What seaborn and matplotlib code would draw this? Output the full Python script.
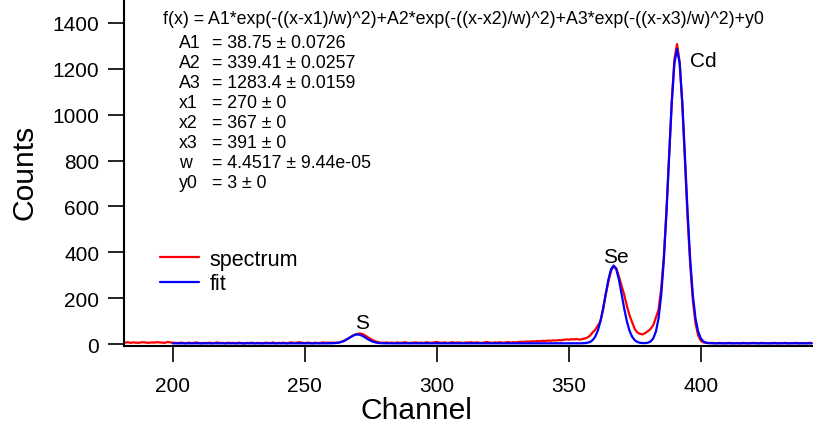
import matplotlib
matplotlib.use("Agg")
import matplotlib.pyplot as plt
import numpy as np
import pandas as pd
import seaborn as sns

# Spectrum (channels 182..442, one value per channel)
spec_counts = [
    6, 8, 5, 7, 6, 5, 7, 8, 6, 5,            # 182-191
    7, 6, 8, 7, 6, 5, 9, 7, 6, 5,            # 192-201
    4, 6, 5, 3, 6, 4, 5, 7, 4, 3,            # 202-211
    5, 4, 6, 3, 5, 7, 4, 5, 3, 6,            # 212-221
    4, 5, 3, 6, 4, 2, 5, 4, 6, 3,            # 222-231
    5, 4, 3, 6, 5, 4, 7, 3, 5, 4,            # 232-241
    6, 3, 5, 7, 4, 6, 8, 5, 4, 6,            # 242-251
    5, 3, 6, 4, 5, 7, 5, 6, 5, 6,            # 252-261
    5, 7, 10, 15, 21, 28, 35, 41, 44, 46,    # 262-271
    43, 36, 29, 22, 15, 10, 8, 6, 5, 7,      # 272-281
    5, 6, 4, 7, 5, 6, 8, 5, 4, 6,            # 282-291
    7, 5, 6, 4, 8, 6, 5, 7, 9, 6,            # 292-301
    5, 7, 4, 6, 8, 5, 7, 6, 4, 7,            # 302-311
    6, 8, 5, 7, 6, 4, 7, 9, 6, 5,            # 312-321
    7, 6, 8, 5, 7, 9, 6, 8, 7, 9,            # 322-331
    10, 9, 11, 10, 12, 11, 13, 12, 14, 13,   # 332-341
    15, 14, 16, 15, 17, 16, 18, 20, 19, 21,  # 342-351
    20, 22, 19, 21, 24, 28, 36, 50, 62, 80,  # 352-361
    100, 150, 215, 272, 318, 340, 330, 295, 254, 215,     # 362-371
    167, 125, 95, 65, 50, 44, 42, 48, 56, 66,             # 372-381
    82, 115, 150, 240, 380, 580, 820, 1055, 1240, 1308,   # 382-391
    1230, 1045, 800, 550, 345, 190, 90, 38, 14, 7,        # 392-401
    5, 4, 5, 4, 3, 5, 4, 3, 4, 5,            # 402-411
    3, 4, 4, 3, 5, 4, 3, 4, 5, 4,            # 412-421
    3, 5, 4, 4, 3, 4, 5, 3, 4, 4,            # 422-431
    5, 3, 4, 4, 5, 3, 4, 4, 3, 5,            # 432-441
    4,                                       # 442
]
spec_channels = list(range(182, 182 + len(spec_counts)))

# Fit curve (flat at y0 outside the peaks)
fit_channels = ([200]
                + list(range(258, 283))
                + list(range(352, 407))
                + [442])
fit_counts = (
    [3.0]
    + [3.0, 3.09, 3.25, 3.65, 4.53, 6.27, 9.30, 13.97, 20.28, 27.61, 34.67, 39.84,
       41.75,
       39.84, 34.67, 27.61, 20.28, 13.97, 9.30, 6.27, 4.53, 3.65, 3.25, 3.09, 3.03]
    + [3.0, 3.02, 3.07, 3.24, 3.76, 5.19, 8.70, 16.44, 31.64, 58.19, 99.13, 154.39,
       218.53, 280.37, 325.71, 342.41, 325.71, 280.37, 218.53, 154.39, 99.13, 58.19,
       31.64, 16.44, 8.70, 5.26, 4.01, 4.14, 5.93, 11.27, 24.55, 53.80, 111.30,
       211.70, 366.50, 575.40, 817.97, 1051.80, 1223.20, 1286.40, 1223.20, 1051.80,
       817.97, 575.40, 366.50, 211.70, 111.30, 53.80, 24.55, 11.26, 5.86, 3.90,
       3.25, 3.07, 3.02]
    + [3.0]
)

peak_names = ["S", "Se", "Cd"]
peak_label_x = [271.6, 367.8, 396.0]
peak_label_y = [92, 382, 1236]

formula = "f(x) = A1*exp(-((x-x1)/w)^2)+A2*exp(-((x-x2)/w)^2)+A3*exp(-((x-x3)/w)^2)+y0"
param_names = ["A1", "A2", "A3", "x1", "x2", "x3", "w", "y0"]
param_values = ["= 38.75 ± 0.0726", "= 339.41 ± 0.0257", "= 1283.4 ± 0.0159",
                "= 270 ± 0", "= 367 ± 0", "= 391 ± 0", "= 4.4517 ± 9.44e-05", "= 3 ± 0"]

spec_df = pd.DataFrame({"channel": spec_channels, "counts": spec_counts})
fit_df = pd.DataFrame({"channel": fit_channels, "counts": fit_counts})

sns.set_style("ticks")
plt.rcParams["font.family"] = ["Liberation Sans", "DejaVu Sans"]
for key in ["text.color", "axes.labelcolor", "xtick.color", "ytick.color"]:
    plt.rcParams[key] = "black"

W, H = 813, 439
fig = plt.figure(figsize=(W / 100, H / 100), dpi=100)
ax = fig.add_axes([124 / W, 1 - 347.3 / H, 1 - 124 / W, 347.3 / H])

sns.lineplot(data=spec_df, x="channel", y="counts", color="#ff0000", linewidth=1.6,
             estimator=None, ax=ax, label="spectrum")
sns.lineplot(data=fit_df, x="channel", y="counts", color="#0000ff", linewidth=1.6,
             estimator=None, ax=ax, label="fit")

ax.set_xlim(181.55, 442.5)
ax.set_ylim(-10, 1504.6)
ax.set_xticks([200, 250, 300, 350, 400])
ax.set_yticks(range(0, 1401, 200))
sns.despine(ax=ax)
for side in ["left", "bottom"]:
    ax.spines[side].set_linewidth(1.5)
    ax.spines[side].set_color("black")
ax.tick_params(axis="both", direction="out", length=11.5, width=1.2,
               labelsize=15, color="black", labelcolor="black")
ax.tick_params(axis="y", pad=6.3)
ax.tick_params(axis="x", pad=9.6)

ax.set_xlabel("Channel", fontsize=21.6, color="black")
ax.set_ylabel("Counts", fontsize=21.6, color="black")
ax.xaxis.set_label_coords((416 - 124) / 689, (347.3 - 397) / 347.3)
ax.yaxis.set_label_coords((39 - 124) / 689, 0.503)

for name, lx, ly in zip(peak_names, peak_label_x, peak_label_y):
    ax.text(lx, ly, name, fontsize=15, color="black",
            ha="left" if name == "Cd" else "center", va="center")

leg = ax.legend(loc="upper left", bbox_to_anchor=(160 / W, 1 - 250 / H),
                bbox_transform=fig.transFigure, frameon=False, fontsize=15.5,
                handlelength=1.8, handletextpad=0.5, labelspacing=0.15,
                borderpad=0, borderaxespad=0)
for t in leg.get_texts():
    t.set_color("black")

# fit results box
fig.text(163 / W, 1 - 20 / H, formula, fontsize=12.8, color="black",
         ha="left", va="center")
for i, (name, val) in enumerate(zip(param_names, param_values)):
    yy = 1 - (44 + i * 20) / H
    fig.text(179 / W, yy, name, fontsize=12.8, color="black", ha="left", va="center")
    fig.text(212 / W, yy, val, fontsize=12.8, color="black", ha="left", va="center")

fig.savefig("out.png", dpi=100)
